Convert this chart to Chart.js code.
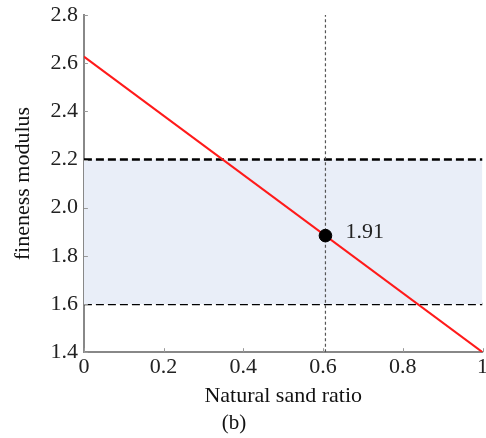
<!DOCTYPE html>
<html>
<head>
<meta charset="utf-8">
<script src="https://cdn.jsdelivr.net/npm/chart.js@4/dist/chart.umd.min.js"></script>
<style>
html,body{margin:0;padding:0;background:#fff;overflow:hidden;}
#wrap{width:486px;height:438px;overflow:hidden;}
</style>
</head>
<body>
<div id="wrap"><canvas id="c" width="490" height="438"></canvas></div>
<script>
const xTicks = [0, 0.2, 0.4, 0.6, 0.8, 1];
const yTicks = [1.4, 1.6, 1.8, 2.0, 2.2, 2.4, 2.6, 2.8];
const redLineX = [0, 1];
const redLineY = [2.627, 1.40];
const bandUpper = 2.2;
const bandLower = 1.6;
const markerX = 0.606;
const markerY = 1.884;
const markerLabel = "1.91";
const captionText = "(b)";

const serif = "'Liberation Serif', 'Times New Roman', serif";

const decorations = {
  id: 'decorations',
  afterDraw(chart) {
    const ctx = chart.ctx, xs = chart.scales.x, ys = chart.scales.y, a = chart.chartArea;
    ctx.save();
    ctx.strokeStyle = '#999';
    ctx.lineWidth = 1;
    xTicks.forEach(v => {
      const px = Math.round(xs.getPixelForValue(v)) + 0.5;
      ctx.beginPath(); ctx.moveTo(px, a.bottom); ctx.lineTo(px, a.bottom - 4); ctx.stroke();
    });
    yTicks.forEach(v => {
      const py = Math.round(ys.getPixelForValue(v)) + 0.5;
      ctx.beginPath(); ctx.moveTo(a.left, py); ctx.lineTo(a.left + 4, py); ctx.stroke();
    });
    const px = xs.getPixelForValue(markerX), py = ys.getPixelForValue(markerY);
    ctx.fillStyle = '#222';
    ctx.font = "22px " + serif;
    ctx.textBaseline = 'middle';
    ctx.textAlign = 'left';
    ctx.fillText(markerLabel, px + 20, py - 3);
    ctx.fillStyle = '#111';
    ctx.font = "21px " + serif;
    ctx.textAlign = 'center';
    ctx.fillText(captionText, 234, 423);
    ctx.restore();
  }
};

new Chart(document.getElementById('c'), {
  type: 'line',
  data: {
    datasets: [
      {
        label: 'marker',
        data: [{x: markerX, y: markerY}],
        showLine: false,
        pointRadius: 6.3,
        pointBackgroundColor: '#000',
        pointBorderColor: '#000',
        order: 0
      },
      {
        label: 'red',
        data: redLineX.map((x, i) => ({x, y: redLineY[i]})),
        borderColor: '#ff1a1a',
        borderWidth: 2,
        pointRadius: 0,
        order: 1
      },
      {
        label: 'vline',
        data: [{x: markerX, y: 1.4}, {x: markerX, y: 2.8}],
        borderColor: '#555',
        borderWidth: 1.2,
        borderDash: [3, 2.5],
        pointRadius: 0,
        order: 2
      },
      {
        label: 'upper',
        data: [{x: 0, y: bandUpper}, {x: 1, y: bandUpper}],
        borderColor: '#000',
        borderWidth: 2.4,
        borderDash: [8, 4],
        pointRadius: 0,
        fill: '+1',
        backgroundColor: '#e9eef8',
        order: 3
      },
      {
        label: 'lower',
        data: [{x: 0, y: bandLower}, {x: 1, y: bandLower}],
        borderColor: '#000',
        borderWidth: 2.4,
        borderDash: [8, 4],
        pointRadius: 0,
        fill: false,
        order: 4
      }
    ]
  },
  plugins: [decorations],
  options: {
    responsive: false,
    animation: false,
    layout: {padding: {top: 15, left: 9, right: 3, bottom: 29}},
    plugins: {
      legend: {display: false},
      tooltip: {enabled: false},
      title: {display: false}
    },
    scales: {
      x: {
        type: 'linear',
        min: 0, max: 1,
        afterBuildTicks: s => { s.ticks = xTicks.map(v => ({value: v})); },
        ticks: {
          color: '#222',
          font: {family: serif, size: 22},
          padding: 2,
          maxRotation: 0,
          callback: v => String(v)
        },
        grid: {display: true, drawOnChartArea: false, drawTicks: false},
        border: {display: true, color: '#888', width: 2},
        title: {
          display: true,
          text: 'Natural sand ratio',
          color: '#111',
          font: {family: serif, size: 22},
          padding: {top: 0, bottom: 0}
        }
      },
      y: {
        type: 'linear',
        min: 1.4, max: 2.8,
        afterBuildTicks: s => { s.ticks = yTicks.map(v => ({value: v})); },
        afterFit: s => { s.paddingTop = 0; s.paddingBottom = 0; },
        ticks: {
          color: '#222',
          font: {family: serif, size: 22},
          padding: 6,
          callback: v => v.toFixed(1)
        },
        grid: {display: true, drawOnChartArea: false, drawTicks: false},
        border: {display: true, color: '#888', width: 2},
        title: {
          display: true,
          text: 'fineness modulus',
          color: '#111',
          font: {family: serif, size: 22},
          padding: {top: 1, bottom: 8}
        }
      }
    }
  }
});
</script>
</body>
</html>
